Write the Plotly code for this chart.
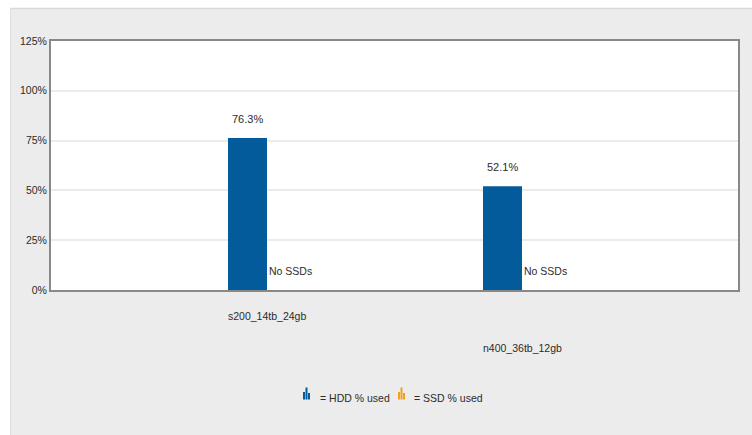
import plotly.graph_objects as go

categories = ["s200_14tb_24gb", "n400_36tb_12gb"]
hdd_used = [76.3, 52.1]
ssd_used = [0, 0]
ssd_notes = ["No SSDs", "No SSDs"]
legend_labels = ["= HDD % used", "= SSD % used"]
y_ticks = [0, 25, 50, 75, 100, 125]

W, H = 752, 435
L, R, T, B = 51, 14, 41, 145
PW, PH = W - L - R, H - T - B

def px(x):
    return (x - L) / PW

def py(y):
    return (H - B - y) / PH

FONT = "Liberation Sans, Arial, sans-serif"
FS = 10.5
BLUE = "#045b9b"
ORANGE = "#f0a21e"
TXT = "#2b2b2b"

fig = go.Figure()
fig.add_trace(go.Bar(x=categories, y=hdd_used, name="HDD % used",
                     marker=dict(color=BLUE, line=dict(width=0))))
fig.add_trace(go.Bar(x=categories, y=ssd_used, name="SSD % used",
                     marker=dict(color=ORANGE, line=dict(width=0))))

ann = []
for c, v in zip(categories, hdd_used):
    ann.append(dict(x=c, y=v, xref="x", yref="y", text=f"{v}%", showarrow=False,
                    xanchor="center", yanchor="middle", xshift=-19.5, yshift=19,
                    font=dict(family=FONT, size=11, color=TXT)))
for c, t in zip(categories, ssd_notes):
    ann.append(dict(x=c, y=0, xref="x", yref="y", text=t, showarrow=False,
                    xanchor="left", yanchor="middle", xshift=0, yshift=19,
                    font=dict(family=FONT, size=FS, color=TXT)))
for i, c in enumerate(categories):
    ann.append(dict(x=c, y=0, xref="x", yref="paper", text=c, showarrow=False,
                    xanchor="center", yanchor="middle", yshift=-26 if i == 0 else -58,
                    font=dict(family=FONT, size=FS, color=TXT)))

shapes = [
    dict(type="rect", xref="paper", yref="paper", x0=px(0), x1=px(W), y0=py(0), y1=py(8),
         fillcolor="white", line=dict(width=0), layer="below"),
    dict(type="rect", xref="paper", yref="paper", x0=px(0), x1=px(10), y0=py(0), y1=py(H),
         fillcolor="white", line=dict(width=0), layer="below"),
    dict(type="line", xref="paper", yref="paper", x0=px(10), x1=px(W), y0=py(8.5), y1=py(8.5),
         line=dict(color="#d9d9d9", width=1.5), layer="below"),
    dict(type="line", xref="paper", yref="paper", x0=px(10.5), x1=px(10.5), y0=py(8), y1=py(H),
         line=dict(color="#dedede", width=1), layer="below"),
]

def icon(x0, color):
    bars = [(0, 2, 392), (2.5, 4.5, 387.5), (5, 7, 393)]
    for a, b, top in bars:
        shapes.append(dict(type="rect", xref="paper", yref="paper",
                           x0=px(x0 + a), x1=px(x0 + b), y0=py(399.5), y1=py(top),
                           fillcolor=color, line=dict(width=0)))

# legend: icon + text pairs
legend_items = [(303, BLUE, 318), (398, ORANGE, 412)]
for (ix, col, tx), lab in zip(legend_items, legend_labels):
    icon(ix, col)
    ann.append(dict(x=px(tx), y=py(398), xref="paper", yref="paper", text=lab,
                    showarrow=False, xanchor="left", yanchor="middle",
                    font=dict(family=FONT, size=FS, color=TXT)))

fig.update_layout(
    width=W, height=H,
    margin=dict(l=L, r=R, t=T, b=B, pad=0),
    paper_bgcolor="#ececec", plot_bgcolor="white",
    barmode="group", bargap=0.694, bargroupgap=0,
    showlegend=False,
    annotations=ann, shapes=shapes,
    font=dict(family=FONT, size=FS, color=TXT),
)
fig.update_xaxes(type="category", range=[-0.847, 1.847], showticklabels=False,
                 showgrid=False, showline=True, linecolor="#888888", linewidth=2,
                 mirror=True, ticks="", zeroline=False, fixedrange=True)
fig.update_yaxes(range=[0, 125], tickvals=y_ticks, ticktext=[f"{v}%" for v in y_ticks],
                 showgrid=True, gridcolor="#ebebeb", gridwidth=2, showline=True,
                 linecolor="#888888", linewidth=2, mirror=True, ticks="", ticklen=0,
                 zeroline=False, tickfont=dict(family=FONT, size=FS, color=TXT),
                 fixedrange=True)

fig.write_html("out.html", config={"displayModeBar": False})
